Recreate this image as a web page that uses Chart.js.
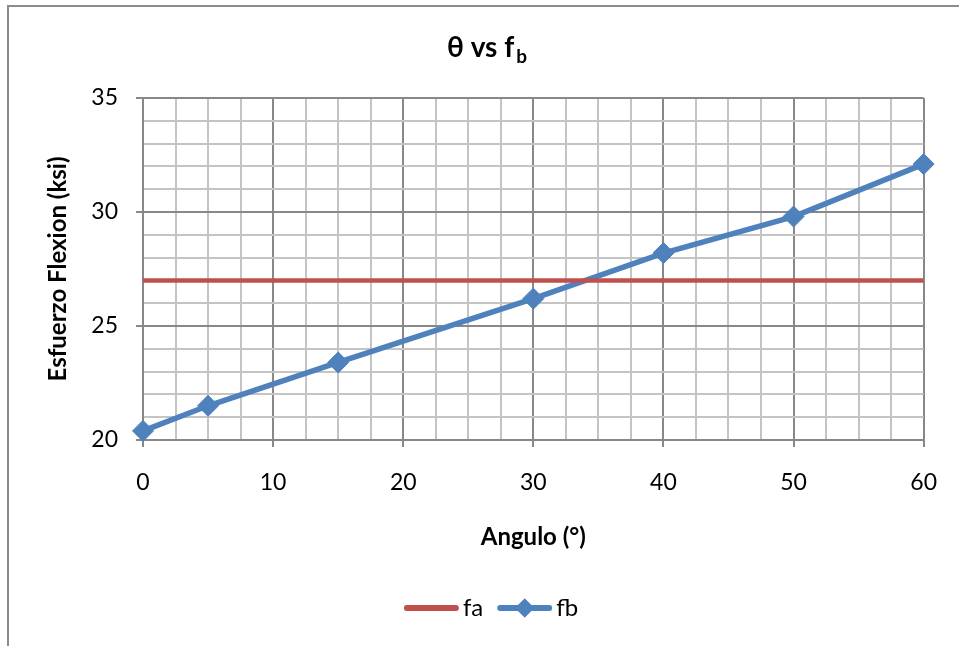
<!DOCTYPE html>
<html>
<head>
<meta charset="utf-8">
<script src="https://cdn.jsdelivr.net/npm/chart.js@4.4.0/dist/chart.umd.min.js"></script>
<style>
  html, body { margin: 0; padding: 0; background: #fff; }
  #wrap { width: 959px; height: 646px; }
</style>
</head>
<body>
<div id="wrap"><canvas id="chart" width="959" height="646"></canvas></div>
<script>
// data
const angles = [0, 5, 15, 30, 40, 50, 60];
const faValues = [27, 27, 27, 27, 27, 27, 27];
const fbValues = [20.4, 21.5, 23.4, 26.2, 28.2, 29.8, 32.1];
const xTickLabels = [0, 10, 20, 30, 40, 50, 60];
const yTickLabels = [20, 25, 30, 35];
const seriesNames = ['fa', 'fb'];

const FONT = "Lato, 'Noto Sans', 'DejaVu Sans', sans-serif";
const MAJOR = '#888888';
const MINOR = '#c4c4c4';
const RED = '#c0504d';
const BLUE = '#4f81bd';

Chart.defaults.font.family = FONT;
Chart.defaults.color = '#000';

function toPoints(xs, ys) {
  return xs.map((x, i) => ({ x, y: ys[i] }));
}

// grey frame round the whole chart
const framePlugin = {
  id: 'frame',
  beforeDraw(chart) {
    const ctx = chart.ctx;
    ctx.save();
    ctx.fillStyle = '#fff';
    ctx.fillRect(0, 0, chart.width, chart.height);
    ctx.strokeStyle = '#8c8c8c';
    ctx.lineWidth = 2;
    ctx.strokeRect(8, 6, chart.width + 20, chart.height + 20);
    ctx.restore();
  }
};

// title with subscript b
const titlePlugin = {
  id: 'subTitle',
  afterDraw(chart) {
    const ctx = chart.ctx;
    ctx.save();
    ctx.fillStyle = '#000';
    ctx.textBaseline = 'alphabetic';
    ctx.font = `bold 28px ${FONT}`;
    const main = 'θ vs f';
    const w1 = ctx.measureText(main).width;
    ctx.font = `bold 19px ${FONT}`;
    const w2 = ctx.measureText('b').width;
    const x0 = 487 - (w1 + w2 + 2) / 2;
    ctx.font = `bold 28px ${FONT}`;
    ctx.fillText(main, x0, 57);
    ctx.font = `bold 19px ${FONT}`;
    ctx.fillText('b', x0 + w1 + 2, 63);
    ctx.restore();
  }
};

// legend: line sample, diamond for fb
const legendPlugin = {
  id: 'lineLegend',
  afterDraw(chart) {
    const ctx = chart.ctx;
    const lineLen = 55, gap = 4, itemGap = 14, cy = 608;
    ctx.save();
    ctx.font = `24px ${FONT}`;
    const items = chart.data.datasets.map(ds => ({
      label: ds.label,
      color: ds.borderColor,
      marker: ds.pointRadius > 0,
      tw: ctx.measureText(ds.label).width
    }));
    const total = items.reduce((s, it) => s + lineLen + gap + it.tw, 0) + itemGap * (items.length - 1);
    let x = 491 - total / 2;
    items.forEach(it => {
      ctx.strokeStyle = it.color;
      ctx.lineWidth = 6;
      ctx.lineCap = 'round';
      ctx.beginPath();
      ctx.moveTo(x + 3, cy);
      ctx.lineTo(x + lineLen - 3, cy);
      ctx.stroke();
      if (it.marker) {
        ctx.fillStyle = it.color;
        Chart.helpers.drawPoint(ctx, { pointStyle: 'rectRot', radius: 9.5, borderWidth: 0 }, x + lineLen / 2, cy);
        ctx.fill();
      }
      ctx.fillStyle = '#000';
      ctx.textBaseline = 'middle';
      ctx.textAlign = 'left';
      ctx.fillText(it.label, x + lineLen + gap, cy);
      x += lineLen + gap + it.tw + itemGap;
    });
    ctx.restore();
  }
};

new Chart(document.getElementById('chart'), {
  type: 'line',
  data: {
    datasets: [
      {
        label: seriesNames[0],
        data: toPoints(angles, faValues),
        borderColor: RED,
        backgroundColor: RED,
        borderWidth: 4.5,
        pointRadius: 0,
        pointHoverRadius: 0,
        tension: 0
      },
      {
        label: seriesNames[1],
        data: toPoints(angles, fbValues),
        borderColor: BLUE,
        backgroundColor: BLUE,
        borderWidth: 5.5,
        pointStyle: 'rectRot',
        pointRadius: 10.5,
        pointBorderWidth: 1,
        pointBorderColor: BLUE,
        pointBackgroundColor: BLUE,
        tension: 0
      }
    ]
  },
  options: {
    responsive: false,
    animation: false,
    clip: false,
    layout: { padding: { left: 20, right: 33, top: 98, bottom: 76 } },
    plugins: {
      legend: { display: false },
      title: { display: false },
      tooltip: { enabled: false }
    },
    scales: {
      x: {
        type: 'linear',
        min: 0,
        max: 60,
        afterFit(scale) { scale.height = 130; },
        border: { color: MAJOR, width: 2 },
        grid: {
          color: c => (c.tick && xTickLabels.includes(c.tick.value)) ? MAJOR : MINOR,
          lineWidth: 2,
          tickLength: 7,
          tickWidth: 2,
          tickColor: c => (c.tick && xTickLabels.includes(c.tick.value)) ? MAJOR : 'rgba(0,0,0,0)'
        },
        ticks: {
          stepSize: 2.5,
          autoSkip: false,
          maxRotation: 0,
          padding: 22,
          color: '#000',
          font: { size: 23 },
          callback: v => xTickLabels.includes(v) ? String(v) : ''
        },
        title: {
          display: true,
          text: 'Angulo (°)',
          color: '#000',
          font: { size: 24, weight: 'bold' },
          padding: { top: 0, bottom: 18 }
        }
      },
      y: {
        min: 20,
        max: 35,
        afterFit(scale) { scale.width = 123; },
        border: { color: MAJOR, width: 2 },
        grid: {
          color: c => (c.tick && yTickLabels.includes(c.tick.value)) ? MAJOR : MINOR,
          lineWidth: 2,
          tickLength: 7,
          tickWidth: 2,
          tickColor: c => (c.tick && yTickLabels.includes(c.tick.value)) ? MAJOR : 'rgba(0,0,0,0)'
        },
        ticks: {
          stepSize: 1,
          autoSkip: false,
          padding: 18,
          color: '#000',
          font: { size: 23 },
          callback: v => yTickLabels.includes(v) ? String(v) : ''
        },
        title: {
          display: true,
          text: 'Esfuerzo Flexion (ksi)',
          color: '#000',
          font: { size: 24, weight: 'bold' },
          padding: { top: 24, bottom: 0 }
        }
      }
    }
  },
  plugins: [framePlugin, titlePlugin, legendPlugin]
});
</script>
</body>
</html>
